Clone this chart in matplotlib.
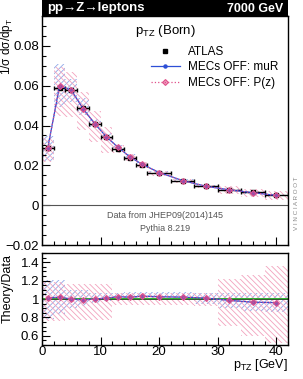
import matplotlib
matplotlib.use("Agg")
import matplotlib.pyplot as plt
import numpy as np
from matplotlib.patches import Rectangle
from matplotlib.lines import Line2D
from matplotlib.ticker import MultipleLocator

plt.rcParams['font.family'] = ['Liberation Sans', 'DejaVu Sans']
plt.rcParams['hatch.linewidth'] = 0.6
plt.rcParams['mathtext.fontset'] = 'custom'
plt.rcParams['mathtext.rm'] = 'Liberation Sans'
plt.rcParams['mathtext.it'] = 'Liberation Sans'

# ---- data ----
bin_edges = [0, 2, 4, 6, 8, 10, 12, 14, 16, 18, 22, 26, 30, 34, 38, 42]
data_vals = [0.0286, 0.0587, 0.0578, 0.0490, 0.0409, 0.0340, 0.0283, 0.0238, 0.0201,
             0.0160, 0.0121, 0.0094, 0.0078, 0.0065, 0.0051]
data_err = [0.0004, 0.0006, 0.0006, 0.0005, 0.0004, 0.0004, 0.0003, 0.0003, 0.0003,
            0.0002, 0.0002, 0.0002, 0.0001, 0.0001, 0.0001]
ratio_muR = [1.01, 1.02, 1.00, 0.99, 1.00, 1.01, 1.025, 1.02, 1.03, 1.025, 1.02, 1.01, 0.985, 0.965, 0.96]
ratio_pz = [1.01, 1.02, 1.00, 0.99, 1.00, 1.01, 1.025, 1.02, 1.03, 1.025, 1.02, 1.01, 0.985, 0.965, 0.96]
muR_up = [1.21, 1.21, 1.10, 1.10, 1.06, 1.06, 1.07, 1.08, 1.08, 1.08, 1.08, 1.07, 1.07, 1.06, 1.06]
muR_dn = [0.78, 0.84, 0.90, 0.92, 0.96, 0.98, 1.00, 1.00, 1.00, 1.00, 0.99, 0.95, 0.90, 0.87, 0.86]
pz_up = [1.18, 1.18, 1.16, 1.16, 1.16, 1.16, 1.07, 1.07, 1.07, 1.07, 1.07, 1.07, 1.22, 1.26, 1.36]
pz_dn = [0.76, 0.76, 0.77, 0.77, 0.77, 0.77, 0.93, 0.93, 0.93, 0.93, 0.93, 0.92, 0.71, 0.60, 0.52]

edges = np.array(bin_edges, dtype=float)
centers = 0.5 * (edges[:-1] + edges[1:])
widths = np.diff(edges)
halfw = widths / 2
data = np.array(data_vals)
mc_muR = data * np.array(ratio_muR)
mc_pz = data * np.array(ratio_pz)

BLUE = '#2d4fd6'
PINK = '#e0508a'
BLUE_H = '#8fa8e8'
PINK_H = '#f2a2bd'

W, H = 303, 379
fig = plt.figure(figsize=(W / 100, H / 100), dpi=100)

def fx(px):
    return px / W

def fy(py):
    return 1 - py / H

L, R = 42, 288
ax = fig.add_axes([fx(L), fy(245), fx(R - L), (245 - 16) / H])
axr = fig.add_axes([fx(L), fy(345), fx(R - L), (345 - 253) / H])

def bands(a, lo, hi, color, hatch):
    a.bar(edges[:-1], np.array(hi) - np.array(lo), bottom=lo, width=widths, align='edge',
          fill=False, hatch=hatch, edgecolor=color, linewidth=0, zorder=1)

PZ_KW = dict(color=PINK, lw=0.9, marker='D', ms=3.0, mfc=(0.88, 0.31, 0.54, 0.55),
             mec=PINK, mew=0.8)
MU_KW = dict(color=BLUE, lw=0.9, marker='o', ms=2.2)

# main panel
bands(ax, data * np.array(muR_dn), data * np.array(muR_up), BLUE_H, '//////')
bands(ax, data * np.array(pz_dn), data * np.array(pz_up), PINK_H, '\\\\\\\\\\\\')
ax.axhline(0, color='#555555', lw=0.8, zorder=2)
ax.errorbar(centers, data, xerr=halfw, yerr=data_err, fmt='s', color='black', ms=2.5,
            elinewidth=1.0, capsize=1.5, capthick=1.0, zorder=3)
ax.plot(centers, mc_muR, '-', zorder=4, **MU_KW)
ax.plot(centers, mc_pz, ':', zorder=5, **PZ_KW)
ax.set_xlim(0, 42)
ax.set_ylim(-0.02, 0.095)
ax.yaxis.set_minor_locator(MultipleLocator(0.005))
ax.xaxis.set_major_locator(MultipleLocator(10))
ax.xaxis.set_minor_locator(MultipleLocator(2))
ax.set_yticks([0.08, 0.06, 0.04, 0.02, 0, -0.02])
ax.set_yticklabels(['0.08', '0.06', '0.04', '0.02', '0', '\u22120.02'])
ax.tick_params(axis='x', labelbottom=False)

handles = [Line2D([], [], ls='none', marker='s', color='black', ms=2.8),
           Line2D([], [], ls='-', **MU_KW),
           Line2D([], [], ls=':', **PZ_KW)]
labels = ['ATLAS', 'MECs OFF: muR', 'MECs OFF: P(z)']
ax.legend(handles, labels, loc='upper left', bbox_to_anchor=(0.42, 0.895), frameon=False,
          fontsize=8.5, handlelength=2.4, handletextpad=0.7, labelspacing=0.3,
          borderpad=0)

ax.text(0.5, 0.935, r'p$_{\rm TZ}$ (Born)', transform=ax.transAxes, ha='center',
        va='center', fontsize=9.5)
ax.text(0.5, 0.128, 'Data from JHEP09(2014)145', transform=ax.transAxes, ha='center',
        va='center', fontsize=6.5, color='#555555')
ax.text(0.5, 0.07, 'Pythia 8.219', transform=ax.transAxes, ha='center',
        va='center', fontsize=6.5, color='#555555')

# ratio panel
bands(axr, muR_dn, muR_up, BLUE_H, '//////')
bands(axr, pz_dn, pz_up, PINK_H, '\\\\\\\\\\\\')
axr.axhline(1.0, color='#22aa22', lw=1.3, zorder=2)
axr.axhline(1.0, color='#333333', lw=0.5, zorder=2)
axr.plot(centers, ratio_muR, '-', zorder=4, **MU_KW)
axr.plot(centers, ratio_pz, ':', zorder=5, **PZ_KW)
axr.set_xlim(0, 42)
axr.set_ylim(0.5, 1.5)
axr.set_yticks([0.6, 0.8, 1.0, 1.2, 1.4])
axr.set_yticklabels(['0.6', '0.8', '1', '1.2', '1.4'])
axr.yaxis.set_minor_locator(MultipleLocator(0.05))
axr.xaxis.set_major_locator(MultipleLocator(10))
axr.xaxis.set_minor_locator(MultipleLocator(2))

for a in (ax, axr):
    a.tick_params(which='both', direction='in', left=True, bottom=True, right=False,
                  top=False, labelsize=9.5, pad=2)
    a.tick_params(which='major', length=6, width=0.8)
    a.tick_params(which='minor', length=3, width=0.8)
    for s in a.spines.values():
        s.set_linewidth(1.0)
axr.tick_params(axis='x', pad=1)

# title bar
fig.patches.append(Rectangle((fx(L), fy(16)), fx(R - L), 16 / H, transform=fig.transFigure,
                             facecolor='black', edgecolor='none'))
fig.text(fx(47), fy(8.5), 'pp\u2192Z\u2192leptons', color='white', fontsize=9.5,
         fontweight='bold', ha='left', va='center')
fig.text(fx(283), fy(8.5), '7000 GeV', color='white', fontsize=9,
         fontweight='bold', ha='right', va='center')

# axis labels
fig.text(fx(7), fy(18), r'1/$\sigma$ d$\sigma$/dp$_{\rm T}$', rotation=90, ha='center',
         va='top', fontsize=8.5)
fig.text(fx(8), fy(254), 'Theory/Data', rotation=90, ha='center', va='top', fontsize=9)
fig.text(fx(288), fy(365), r'p$_{\rm TZ}$ [GeV]', ha='right', va='center', fontsize=9)
fig.text(fx(296), fy(203), 'V I N C I A R O O T', rotation=90, ha='center', va='center',
         fontsize=4.5, color='#888888')

fig.savefig('out.png', dpi=100)
